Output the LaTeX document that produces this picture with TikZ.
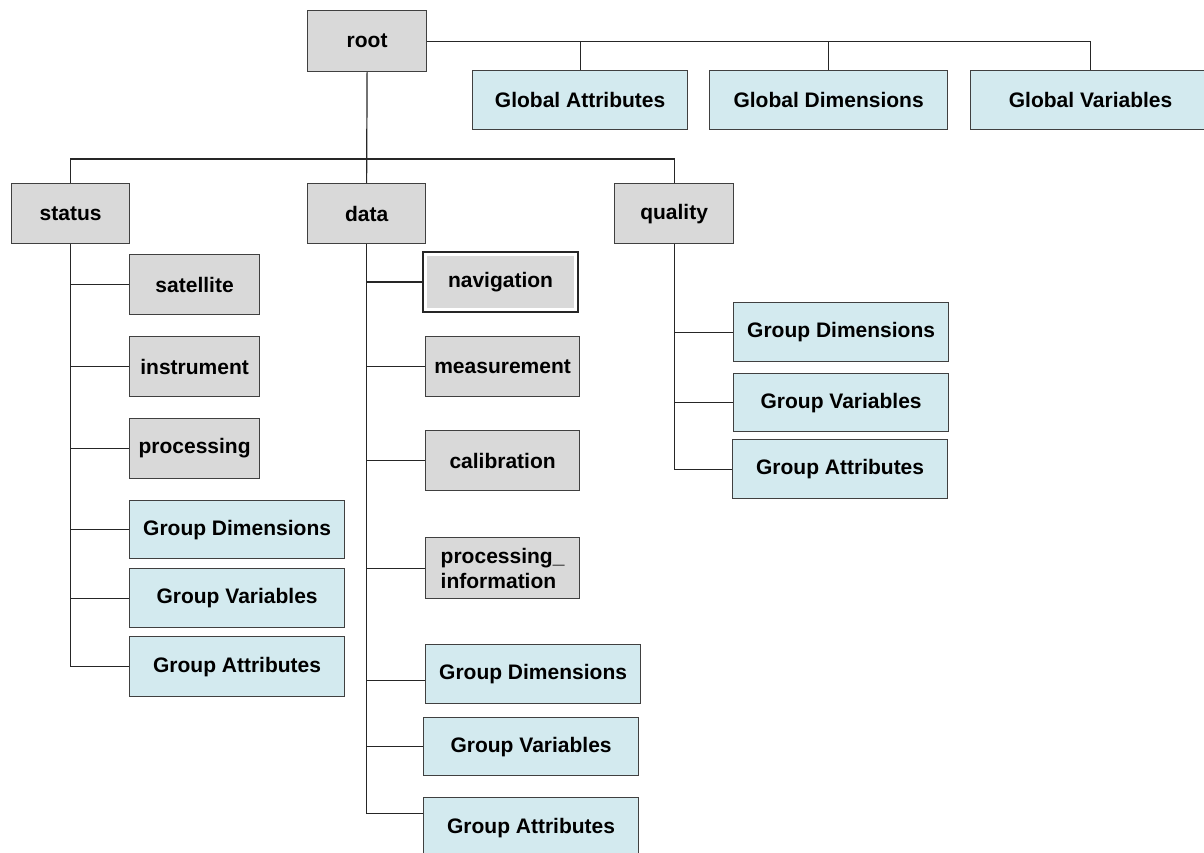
\documentclass[tikz,border=0pt]{standalone}
\usepackage{fontspec}
\setmainfont{Liberation Sans}
\usepackage{tikz}
\usetikzlibrary{calc}

\definecolor{grpgray}{RGB}{217,217,217}
\definecolor{attblue}{RGB}{211,234,239}

\begin{document}
\begin{tikzpicture}[x=0.5pt,y=-0.5pt,
    every node/.style={font=\fontsize{10.5}{12.5}\selectfont\bfseries, inner sep=0pt, anchor=north west},
    sz/.style 2 args={minimum width=#1*0.5pt, minimum height=#2*0.5pt},
    grp/.style={draw=black!75, fill=grpgray, line width=0.6pt},
    att/.style={draw=black!75, fill=attblue, line width=0.6pt},
    link/.style={draw=black!85, line width=0.6pt}]
    \useasboundingbox (0,0) rectangle (1204,852);

    % top level
    \node[grp, sz={119}{61}] (root) at (307,10) {root};
    \node[att, sz={215}{59}] (ga) at (472,70) {Global Attributes};
    \node[att, sz={238}{59}] (gd) at (709,70) {Global Dimensions};
    \node[att, sz={240}{59}] (gv) at (970,70) {Global Variables};

    % groups
    \node[grp, sz={118}{60}] (status) at (11,183) {status};
    \node[grp, sz={118}{60}] (data) at (307,183) {data};
    \node[grp, sz={119}{60}] (quality) at (614,183) {quality};

    % status subgroups
    \node[grp, sz={130}{60}] (sat) at (129,254) {satellite};
    \node[grp, sz={130}{60}] (ins) at (129,336) {instrument};
    \node[grp, sz={130}{60}] (proc) at (129,418) {processing};
    \node[att, sz={215}{58}] (sgd) at (129,500) {Group Dimensions};
    \node[att, sz={215}{59}] (sgv) at (129,568) {Group Variables};
    \node[att, sz={215}{60}] (sga) at (129,636) {Group Attributes};

    % data subgroups
    \node[fill=grpgray, sz={147}{52}, outer sep=2pt] (navi) at (423,252) {navigation};
    \draw[black!85, line width=0.6pt] (navi.south west) rectangle (navi.north east);
    \node[grp, sz={154}{60}] (meas) at (425,336) {measurement};
    \node[grp, sz={154}{60}] (cal) at (425,430) {calibration};
    \node[grp, sz={154}{61}, align=left] (pinfo) at (425,537) {processing\_\\information};
    \node[att, sz={215}{59}] (dgd) at (425,644) {Group Dimensions};
    \node[att, sz={215}{58}] (dgv) at (423,717) {Group Variables};
    \node[att, sz={215}{60}] (dga) at (423,797) {Group Attributes};

    % quality subgroups
    \node[att, sz={215}{59}] (qgd) at (733,302) {Group Dimensions};
    \node[att, sz={215}{58}] (qgv) at (733,373) {Group Variables};
    \node[att, sz={215}{59}] (qga) at (732,439) {Group Attributes};

    % root links
    \draw[link] (root.east) -| (ga.north);
    \draw[link] (root.east) -| (gd.north);
    \draw[link] (root.east) -| (gv.north);
    \draw[link] (root.south) -- (data.north);
    \coordinate (bus) at ($(data.north)+(0,-24)$);
    \draw[link] (status.north) |- (bus) -| (quality.north);

    % status links
    \draw[link] (status.south) |- (sga.west);
    \foreach \n in {sat,ins,proc,sgd,sgv}
        \draw[link] (status.south |- \n.west) -- (\n.west);

    % data links
    \draw[link] (data.south) |- ([yshift=7pt]dga.west);
    \foreach \n in {navi,meas,cal,pinfo,dgv}
        \draw[link] (data.south |- \n.west) -- (\n.west);
    \draw[link] (data.south |- dgd.west) ++(0,6) -- ([yshift=-3pt]dgd.west);

    % quality links
    \draw[link] (quality.south) |- (qga.west);
    \foreach \n in {qgd,qgv}
        \draw[link] (quality.south |- \n.west) -- (\n.west);
\end{tikzpicture}
\end{document}
